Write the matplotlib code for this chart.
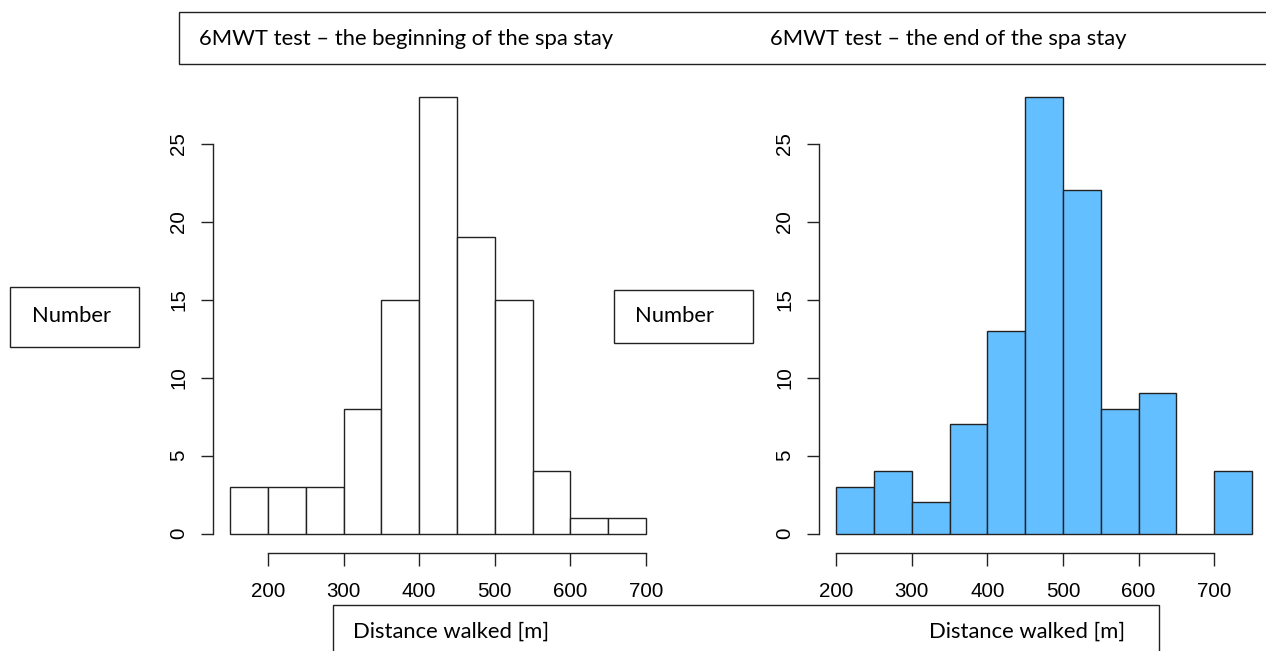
import matplotlib
matplotlib.use("Agg")
import matplotlib.pyplot as plt
from matplotlib.patches import Rectangle

# histogram data
bin_width = 50
start_edges = [150, 200, 250, 300, 350, 400, 450, 500, 550, 600, 650]
start_counts = [3, 3, 3, 8, 15, 28, 19, 15, 4, 1, 1]
end_edges = [200, 250, 300, 350, 400, 450, 500, 550, 600, 650, 700]
end_counts = [3, 4, 2, 7, 13, 28, 22, 8, 9, 0, 4]
x_ticks = [200, 300, 400, 500, 600, 700]
y_ticks = [0, 5, 10, 15, 20, 25]

W, H = 1266, 651
LABEL_FONT = ["Lato", "DejaVu Sans"]
TICK_FONT = ["Liberation Sans", "DejaVu Sans"]


def px_axes(fig, left, top, right, bottom):
    return fig.add_axes([left / W, 1 - bottom / H, (right - left) / W, (bottom - top) / H])


def r_hist(ax, edges, counts, color, xlim):
    ax.bar(edges, counts, width=bin_width, align="edge", color=color,
           edgecolor="#222222", linewidth=1.0)
    ax.set_xlim(*xlim)
    ax.set_ylim(-1.26, 29.12)
    for s in ["top", "right"]:
        ax.spines[s].set_visible(False)
    ax.spines["left"].set_bounds(0, 25)
    ax.spines["bottom"].set_bounds(200, 700)
    ax.spines["left"].set_linewidth(1.0)
    ax.spines["bottom"].set_linewidth(1.0)
    ax.spines["left"].set_color("#222222")
    ax.spines["bottom"].set_color("#222222")
    ax.set_xticks(x_ticks)
    ax.set_yticks(y_ticks)
    ax.tick_params(length=9, width=1.0, color="#222222", labelsize=14.8, pad=12)
    ax.tick_params(axis="y", pad=9)
    for lab in ax.get_xticklabels():
        lab.set_family(TICK_FONT)
    for lab in ax.get_yticklabels():
        lab.set_family(TICK_FONT)
        lab.set_rotation(90)
        lab.set_va("center")
    ax.patch.set_alpha(0)


def box(fig, left, top, right, bottom):
    fig.add_artist(Rectangle((left / W, 1 - bottom / H), (right - left) / W, (bottom - top) / H,
                             transform=fig.transFigure, facecolor="white",
                             edgecolor="#222222", linewidth=1.0))


def label(fig, x, y, text):
    fig.text(x / W, 1 - y / H, text, ha="left", va="center", fontsize=15.8,
             family=LABEL_FONT, color="black")


fig = plt.figure(figsize=(W / 100, H / 100), dpi=100)

ax1 = px_axes(fig, 213.4, 79.4, 662.8, 553.3)
r_hist(ax1, start_edges, start_counts, "white", (128, 722))

ax2 = px_axes(fig, 819.4, 79.4, 1268.8, 553.3)
r_hist(ax2, end_edges, end_counts, "#63BFFF", (178, 772))

# overlay text boxes
box(fig, 179, 12, 1280, 64)
label(fig, 199, 39, "6MWT test \u2013 the beginning of the spa stay")
label(fig, 770, 39, "6MWT test \u2013 the end of the spa stay")

box(fig, 10, 287, 139, 347)
label(fig, 32, 316, "Number")

box(fig, 614, 290, 753, 343)
label(fig, 635, 316, "Number")

box(fig, 333, 605, 1159, 670)
label(fig, 353, 632, "Distance walked [m]")
label(fig, 929, 632, "Distance walked [m]")

fig.savefig("out.png", dpi=100)
